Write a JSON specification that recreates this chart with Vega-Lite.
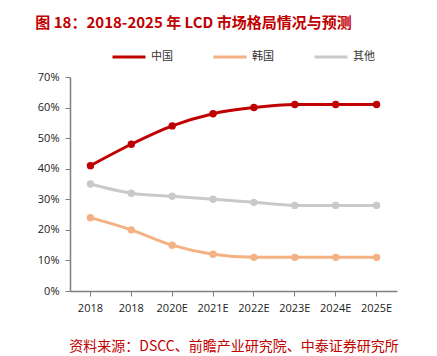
{
  "$schema": "https://vega.github.io/schema/vega-lite/v6.json",
  "autosize": "none",
  "width": 327,
  "height": 214,
  "padding": {"left": 70, "top": 77, "right": 40, "bottom": 65},
  "background": "white",
  "config": {"view": {"stroke": null}},
  "title": {
    "text": "图 18：2018-2025 年 LCD 市场格局情况与预测",
    "anchor": "start",
    "dx": -2,
    "offset": 8,
    "fontSize": 15,
    "fontWeight": "bold",
    "color": "#C00000",
    "font": "Noto Sans CJK SC"
  },
  "data": {
    "values": [
      {"period": "2018-1", "region": "中国", "share": 0.41},
      {"period": "2018-2", "region": "中国", "share": 0.48},
      {"period": "2020E", "region": "中国", "share": 0.54},
      {"period": "2021E", "region": "中国", "share": 0.58},
      {"period": "2022E", "region": "中国", "share": 0.60},
      {"period": "2023E", "region": "中国", "share": 0.61},
      {"period": "2024E", "region": "中国", "share": 0.61},
      {"period": "2025E", "region": "中国", "share": 0.61},
      {"period": "2018-1", "region": "韩国", "share": 0.24},
      {"period": "2018-2", "region": "韩国", "share": 0.20},
      {"period": "2020E", "region": "韩国", "share": 0.15},
      {"period": "2021E", "region": "韩国", "share": 0.12},
      {"period": "2022E", "region": "韩国", "share": 0.11},
      {"period": "2023E", "region": "韩国", "share": 0.11},
      {"period": "2024E", "region": "韩国", "share": 0.11},
      {"period": "2025E", "region": "韩国", "share": 0.11},
      {"period": "2018-1", "region": "其他", "share": 0.35},
      {"period": "2018-2", "region": "其他", "share": 0.32},
      {"period": "2020E", "region": "其他", "share": 0.31},
      {"period": "2021E", "region": "其他", "share": 0.30},
      {"period": "2022E", "region": "其他", "share": 0.29},
      {"period": "2023E", "region": "其他", "share": 0.28},
      {"period": "2024E", "region": "其他", "share": 0.28},
      {"period": "2025E", "region": "其他", "share": 0.28}
    ]
  },
  "mark": {"type": "line", "interpolate": "monotone", "strokeWidth": 3, "point": {"filled": true, "size": 55}},
  "encoding": {
    "x": {
      "field": "period",
      "type": "ordinal",
      "sort": null,
      "scale": {"type": "band", "paddingInner": 0, "paddingOuter": 0},
      "axis": {
        "title": "资料来源：DSCC、前瞻产业研究院、中泰证券研究所",
        "titleColor": "#C00000",
        "titleFont": "Noto Sans CJK SC",
        "titleFontSize": 14,
        "titleFontWeight": "normal",
        "titlePadding": 26,
        "labelExpr": "indexof(datum.value, '-') > 0 ? slice(datum.value, 0, 4) : datum.value",
        "labelAngle": 0,
        "labelFont": "Open Sans",
        "labelFontSize": 11,
        "labelColor": "#222222",
        "labelPadding": 6,
        "tickSize": 5,
        "tickColor": "#7F7F7F",
        "domainColor": "#7F7F7F",
        "domainWidth": 1.5
      }
    },
    "y": {
      "field": "share",
      "type": "quantitative",
      "scale": {"domain": [0, 0.7], "nice": false},
      "axis": {
        "title": null,
        "format": ".0%",
        "values": [0, 0.1, 0.2, 0.3, 0.4, 0.5, 0.6, 0.7],
        "grid": false,
        "labelFont": "Open Sans",
        "labelFontSize": 11,
        "labelColor": "#222222",
        "labelPadding": 6,
        "tickSize": 5,
        "tickColor": "#7F7F7F",
        "domainColor": "#7F7F7F",
        "domainWidth": 1.5
      }
    },
    "color": {
      "field": "region",
      "type": "nominal",
      "scale": {"domain": ["中国", "韩国", "其他"], "range": ["#C00000", "#F4B183", "#C9C9C9"]},
      "legend": {
        "title": null,
        "orient": "none",
        "direction": "horizontal",
        "legendX": 41,
        "legendY": -38,
        "columnPadding": 34,
        "labelOffset": 4,
        "labelFont": "Noto Sans CJK SC",
        "labelFontSize": 11,
        "labelColor": "#333333",
        "symbolSize": 1089,
        "symbolType": "stroke",
        "symbolStrokeWidth": 3
      }
    }
  }
}
